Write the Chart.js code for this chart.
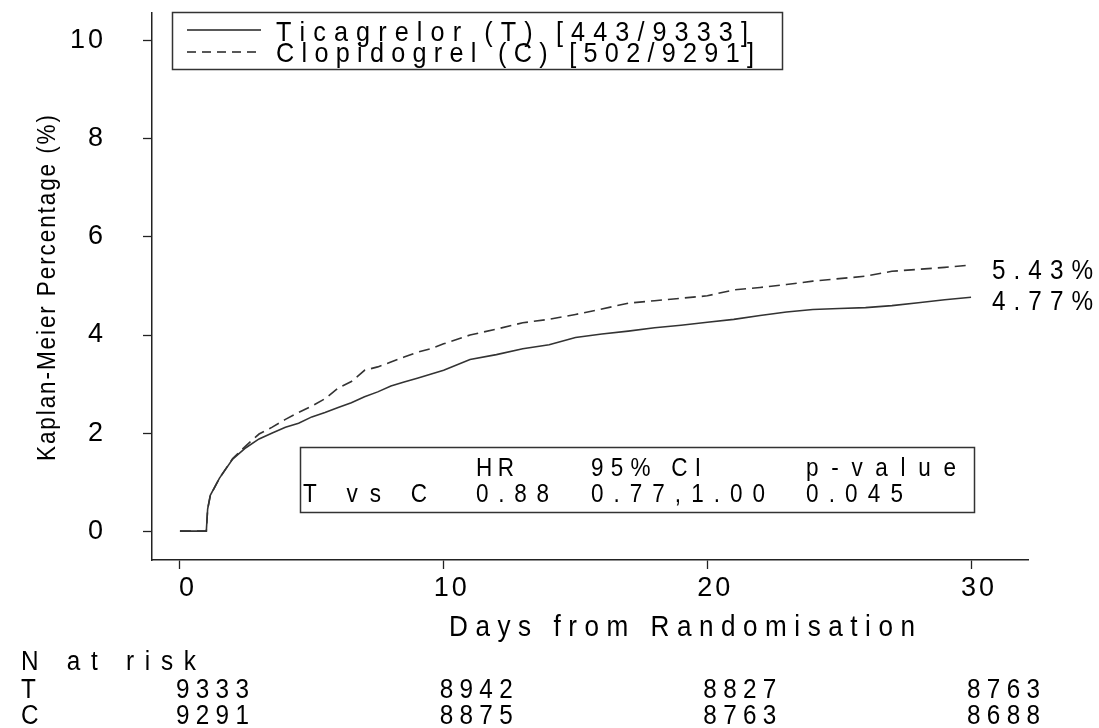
<!DOCTYPE html>
<html>
<head>
<meta charset="utf-8">
<script src="https://cdn.jsdelivr.net/npm/chart.js@4.4.1/dist/chart.umd.min.js"></script>
<style>
  html, body { margin: 0; padding: 0; background: #fff; }
  canvas { display: block; }
</style>
</head>
<body>
<canvas id="km" width="1099" height="728"></canvas>
<script>
const FONT = "'Liberation Sans', Arial, sans-serif";

// cumulative event curves (days, %)
const days = [0, 1, 1.05, 1.15, 1.5, 2, 2.5, 3, 3.5, 4, 4.5, 5, 5.5, 6, 6.5, 7, 7.5, 8, 8.5, 9, 9.5,
  10, 11, 12, 13, 14, 15, 16, 17, 18, 19, 20, 21, 22, 23, 24, 25, 26, 27, 28, 29, 30];
const ticagrelorPct = [0, 0, 0.45, 0.73, 1.08, 1.47, 1.70, 1.88, 2.0, 2.12, 2.2, 2.33, 2.42, 2.52, 2.62, 2.74, 2.84, 2.96, 3.04, 3.12, 3.2,
  3.28, 3.5, 3.6, 3.72, 3.8, 3.95, 4.02, 4.08, 4.15, 4.2, 4.26, 4.32, 4.4, 4.47, 4.52, 4.54, 4.56, 4.6, 4.66, 4.72, 4.77];
const clopidogrelPct = [0, 0, 0.45, 0.72, 1.08, 1.48, 1.74, 1.98, 2.12, 2.28, 2.42, 2.55, 2.7, 2.92, 3.05, 3.28, 3.35, 3.45, 3.55, 3.65, 3.72,
  3.82, 4.0, 4.12, 4.25, 4.32, 4.42, 4.53, 4.65, 4.7, 4.75, 4.8, 4.92, 4.97, 5.03, 5.1, 5.15, 5.2, 5.3, 5.34, 5.38, 5.43];

const xTicks = [0, 10, 20, 30];
const yTicks = [0, 2, 4, 6, 8, 10];

const legendLabels = ['Ticagrelor (T) [443/9333]', 'Clopidogrel (C) [502/9291]'];
const endLabels = ['4.77%', '5.43%'];
const hrHeader = ['HR', '95% CI', 'p-value'];
const hrRow = ['T vs C', '0.88', '0.77,1.00', '0.045'];

const riskDays = [0, 10, 20, 30];
const riskT = [9333, 8942, 8827, 8763];
const riskC = [9291, 8875, 8763, 8688];

function toPoints(xs, ys) { return xs.map((d, i) => ({ x: d, y: ys[i] })); }

// draw text char by char, a little condensed and spread to a given width (the original uses a narrow, wide-spaced font)
const SQUEEZE = 0.9;
function spaced(ctx, text, x, y, width) {
  const chars = [...text];
  const natural = chars.reduce((s, ch) => s + ctx.measureText(ch).width * SQUEEZE, 0);
  const gap = chars.length > 1 ? (width - natural) / (chars.length - 1) : 0;
  let cx = x;
  chars.forEach(ch => {
    ctx.save();
    ctx.translate(cx, y);
    ctx.scale(SQUEEZE, 1);
    ctx.fillText(ch, 0, 0);
    ctx.restore();
    cx += ctx.measureText(ch).width * SQUEEZE + gap;
  });
}

const annotations = {
  id: 'annotations',
  beforeDraw(chart) { chart.ctx.letterSpacing = '3px'; },
  afterDraw(chart) {
    const ctx = chart.ctx;
    const xs = chart.scales.x, ys = chart.scales.y;
    ctx.save();
    ctx.letterSpacing = '0px';
    ctx.fillStyle = '#000';
    ctx.strokeStyle = '#333';
    ctx.textAlign = 'left';
    ctx.textBaseline = 'alphabetic';

    // legend box
    ctx.lineWidth = 1.5;
    ctx.strokeRect(172.5, 12.5, 610, 57);
    ctx.strokeStyle = '#222';
    ctx.beginPath(); ctx.moveTo(187, 30); ctx.lineTo(261, 30); ctx.stroke();
    ctx.setLineDash([9, 6]);
    ctx.beginPath(); ctx.moveTo(187, 52); ctx.lineTo(261, 52); ctx.stroke();
    ctx.setLineDash([]);
    ctx.font = '28px ' + FONT;
    spaced(ctx, legendLabels[0], 276, 41, 472);
    spaced(ctx, legendLabels[1], 276, 62, 478);

    // end-of-curve labels
    ctx.font = '27px ' + FONT;
    const xEnd = xs.getPixelForValue(30) + 21;
    spaced(ctx, endLabels[0], xEnd, ys.getPixelForValue(ticagrelorPct[ticagrelorPct.length - 1]) + 13, 101);
    spaced(ctx, endLabels[1], xEnd, ys.getPixelForValue(clopidogrelPct[clopidogrelPct.length - 1]) + 14, 101);

    // hazard ratio box
    ctx.strokeStyle = '#333';
    ctx.fillStyle = '#fff';
    ctx.fillRect(300.5, 447.5, 674, 65);
    ctx.strokeRect(300.5, 447.5, 674, 65);
    ctx.fillStyle = '#000';
    ctx.font = '25px ' + FONT;
    spaced(ctx, hrHeader[0], 476, 476, 38);
    spaced(ctx, hrHeader[1], 591, 476, 110);
    spaced(ctx, hrHeader[2], 806, 476, 150);
    spaced(ctx, hrRow[0], 303, 502, 124);
    spaced(ctx, hrRow[1], 476, 502, 73);
    spaced(ctx, hrRow[2], 591, 502, 174);
    spaced(ctx, hrRow[3], 806, 502, 97);

    // axis titles
    ctx.font = '29px ' + FONT;
    spaced(ctx, 'Days from Randomisation', 449, 636, 466);
    ctx.save();
    ctx.translate(55, 288);
    ctx.rotate(-Math.PI / 2);
    ctx.font = '25px ' + FONT;
    spaced(ctx, 'Kaplan-Meier Percentage (%)', -173, 0, 346);
    ctx.restore();

    // number at risk
    ctx.font = '27px ' + FONT;
    spaced(ctx, 'N at risk', 21, 670, 175);
    spaced(ctx, 'T', 21, 698, 15);
    spaced(ctx, 'C', 21, 724, 17);
    riskDays.forEach((d, i) => {
      const left = xs.getPixelForValue(d) - 4;
      spaced(ctx, String(riskT[i]), left, 698, 73);
      spaced(ctx, String(riskC[i]), left, 724, 73);
    });
    ctx.restore();
  }
};

new Chart(document.getElementById('km'), {
  type: 'line',
  data: {
    datasets: [
      {
        label: 'Ticagrelor (T)',
        data: toPoints(days, ticagrelorPct),
        borderColor: '#333',
        borderWidth: 1.6,
        pointRadius: 0,
        tension: 0
      },
      {
        label: 'Clopidogrel (C)',
        data: toPoints(days, clopidogrelPct),
        borderColor: '#333',
        borderWidth: 1.6,
        borderDash: [11, 6],
        pointRadius: 0,
        tension: 0
      }
    ]
  },
  options: {
    responsive: false,
    animation: false,
    layout: { padding: { top: 13, right: 71, left: 0, bottom: 0 } },
    plugins: { legend: { display: false }, tooltip: { enabled: false } },
    scales: {
      x: {
        type: 'linear',
        min: -1.06,
        max: 32.16,
        afterBuildTicks: s => { s.ticks = xTicks.map(v => ({ value: v })); },
        afterFit: s => { s.height = 168; s.paddingLeft = 0; s.paddingRight = 0; },
        grid: { drawOnChartArea: false, drawTicks: true, tickLength: 9, tickColor: '#222', tickWidth: 1.3 },
        border: { display: true, color: '#222', width: 1.5 },
        ticks: { color: '#000', font: { family: FONT, size: 27 }, padding: 3, labelOffset: 8, maxRotation: 0 }
      },
      y: {
        min: -0.59,
        max: 10.57,
        afterBuildTicks: s => { s.ticks = yTicks.map(v => ({ value: v })); },
        afterFit: s => { s.width = 152; s.paddingTop = 0; s.paddingBottom = 0; },
        grid: { drawOnChartArea: false, drawTicks: true, tickLength: 9, tickColor: '#222', tickWidth: 1.3 },
        border: { display: true, color: '#222', width: 1.5 },
        ticks: { color: '#000', font: { family: FONT, size: 27 }, padding: 37 }
      }
    }
  },
  plugins: [annotations]
});
</script>
</body>
</html>
